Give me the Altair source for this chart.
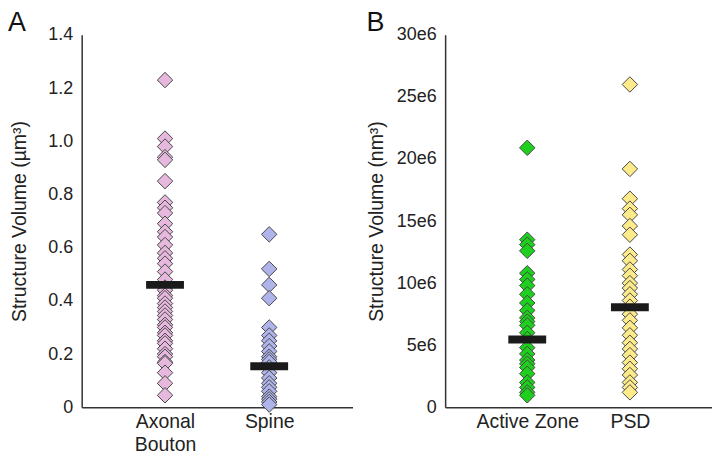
import altair as alt
import pandas as pd

# ---------------- Panel A data ----------------
categories_a = ["Axonal Bouton", "Spine"]
bouton = [1.23, 1.01, 0.98, 0.94, 0.93, 0.85, 0.77, 0.75, 0.73, 0.69, 0.66,
          0.64, 0.61, 0.58, 0.56, 0.54, 0.51, 0.48, 0.45, 0.44, 0.42, 0.41,
          0.39, 0.375, 0.36, 0.345, 0.33, 0.31, 0.30, 0.28, 0.27, 0.25, 0.24,
          0.22, 0.20, 0.19, 0.17, 0.165, 0.13, 0.09, 0.045]
spine = [0.65, 0.52, 0.46, 0.41, 0.30, 0.27, 0.25, 0.23, 0.21, 0.19, 0.18,
         0.17, 0.15, 0.13, 0.11, 0.09, 0.075, 0.06, 0.04, 0.03, 0.02, 0.01]
mean_a = [0.46, 0.154]
colors_a = ["#E6B8DE", "#AFB5EA"]
yticks_a = [0, 0.2, 0.4, 0.6, 0.8, 1.0, 1.2, 1.4]

# ---------------- Panel B data ----------------
categories_b = ["Active Zone", "PSD"]
active_zone = [20.9e6, 13.5e6, 13.1e6, 12.6e6, 10.8e6, 10.3e6, 9.8e6, 9.1e6,
               8.4e6, 7.8e6, 7.2e6, 6.9e6, 6.6e6, 6.0e6, 5.5e6, 4.8e6, 4.3e6,
               3.8e6, 3.5e6, 3.2e6, 2.7e6, 2.0e6, 1.6e6, 1.2e6, 0.96e6]
psd = [26.0e6, 19.2e6, 16.8e6, 16.0e6, 15.5e6, 14.6e6, 13.9e6, 12.3e6,
       11.8e6, 11.1e6, 10.6e6, 10.0e6, 9.6e6, 9.1e6, 8.6e6, 8.1e6, 7.5e6,
       7.0e6, 6.4e6, 5.8e6, 5.2e6, 4.7e6, 4.2e6, 3.6e6, 3.1e6, 2.6e6, 2.0e6,
       1.6e6, 1.2e6]
mean_b = [5.45e6, 8.05e6]
colors_b = ["#1ECF1E", "#FDEB8B"]
yticks_b = [0, 5e6, 10e6, 15e6, 20e6, 25e6, 30e6]


def panel(cats, series, means, colors, ticks, ymax, ytitle, letter,
          ylabel_expr, width, title_pad, letter_x):
    cat_col, val_col = [], []
    for c, s in zip(cats, series):
        cat_col += [c] * len(s)
        val_col += list(s)
    df = pd.DataFrame({"cat": cat_col, "v": val_col})
    mdf = pd.DataFrame({"cat": cats, "v": means})

    x = alt.X(
        "cat:N", sort=cats,
        scale=alt.Scale(type="point", padding=0.8),
        axis=alt.Axis(
            title=None, labelAngle=0, ticks=False, grid=False,
            labelFontSize=19.5, labelPadding=5, labelLineHeight=23,
            labelColor="#222222", domainColor="#333333", domainWidth=1.5,
            labelExpr="datum.label == 'Axonal Bouton' ? ['Axonal', 'Bouton'] : datum.label",
        ),
    )
    y = alt.Y(
        "v:Q",
        scale=alt.Scale(domain=[0, ymax], nice=False, zero=True),
        axis=alt.Axis(
            values=ticks, labelExpr=ylabel_expr, title=ytitle,
            titleFontSize=19.5, titleFontWeight="normal", titleColor="#222222",
            titlePadding=title_pad, labelFontSize=18, labelColor="#222222",
            labelPadding=9, ticks=False, grid=False,
            domainColor="#333333", domainWidth=1.5,
        ),
    )
    pts = alt.Chart(df).mark_point(
        shape="diamond", filled=True, size=240, opacity=1,
        stroke="#474747", strokeWidth=1,
    ).encode(
        x=x, y=y,
        color=alt.Color("cat:N", scale=alt.Scale(domain=cats, range=colors), legend=None),
    )
    bar = alt.Chart(mdf).mark_tick(
        color="#1a1a1a", thickness=8, size=38, opacity=1
    ).encode(x=x, y=y)
    lab = alt.Chart(pd.DataFrame({"t": [letter]})).mark_text(
        fontSize=27, align="left", baseline="alphabetic", color="#111111"
    ).encode(x=alt.value(letter_x), y=alt.value(-4), text="t:N")
    return alt.layer(pts, bar, lab).properties(width=width, height=374)


pa = panel(categories_a, [bouton, spine], mean_a, colors_a, yticks_a, 1.4,
           "Structure Volume (µm³)", "A",
           "datum.value == 0 ? '0' : format(datum.value, '.1f')",
           272, 18, -74)
pb = panel(categories_b, [active_zone, psd], mean_b, colors_b, yticks_b, 30e6,
           "Structure Volume (nm³)", "B",
           "datum.value == 0 ? '0' : format(datum.value / 1e6, 'd') + 'e6'",
           268, 10, -79)

chart = alt.hconcat(pa, pb, spacing=13).resolve_scale(
    color="independent"
).properties(
    padding=0
).configure(
    font="Liberation Sans"
).configure_view(stroke=None)

chart.save("out.html", embed_options={"renderer": "svg", "actions": False})
